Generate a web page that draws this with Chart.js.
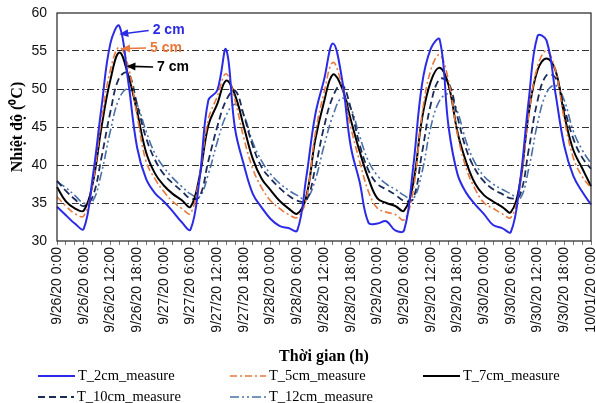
<!DOCTYPE html>
<html>
<head>
<meta charset="utf-8">
<script src="https://cdn.jsdelivr.net/npm/chart.js@4.4.1/dist/chart.umd.min.js"></script>
<style>
  html, body { margin: 0; padding: 0; background: #fff; }
  #wrap { width: 596px; height: 403px; }
</style>
</head>
<body>
<div id="wrap"><canvas id="tempChart" width="596" height="403"></canvas></div>
<script>
// days shown on the axis, readings every 2 hours
const days = ['9/26/20', '9/27/20', '9/28/20', '9/29/20', '9/30/20', '10/01/20']
const hours = ['0:00', '2:00', '4:00', '6:00', '8:00', '10:00', '12:00', '14:00', '16:00', '18:00', '20:00', '22:00']

const t2cm = [34.5, 33.4, 32.3, 31.6, 38.3, 47.6, 56.0, 58.3, 51.0, 42.3, 38.2, 36.3,
  35.2, 33.9, 32.5, 31.5, 38.0, 48.5, 49.8, 55.2, 44.8, 40.0, 36.2, 34.4,
  32.9, 32.0, 31.7, 31.4, 38.3, 46.5, 51.2, 56.0, 51.5, 42.5, 37.8, 32.4,
  32.3, 32.6, 31.4, 31.4, 39.5, 50.5, 55.3, 56.5, 45.0, 38.8, 36.3, 34.8,
  33.5, 32.1, 31.7, 31.2, 37.5, 48.5, 57.0, 56.4, 49.5, 42.5, 38.6, 36.5, 34.8]
const t5cm = [35.8, 34.6, 33.6, 33.3, 37.5, 46.0, 52.5, 55.5, 53.0, 46.5, 40.5, 38.2,
  36.5, 35.2, 34.3, 33.6, 38.5, 46.0, 49.0, 52.0, 48.5, 43.5, 39.5, 37.0,
  35.3, 34.3, 33.5, 33.1, 35.5, 44.0, 49.5, 53.5, 50.5, 45.0, 40.5, 36.5,
  34.3, 33.8, 33.5, 32.8, 36.5, 46.5, 52.5, 54.5, 51.0, 44.0, 39.5, 36.8,
  35.0, 34.3, 33.6, 33.1, 37.0, 46.5, 53.0, 55.0, 52.5, 46.0, 41.0, 38.5, 37.0]
const t7cm = [37.1, 35.2, 34.3, 34.0, 37.5, 45.0, 51.2, 54.8, 51.8, 47.0, 41.7, 38.9,
  37.3, 36.2, 35.4, 34.5, 38.4, 45.2, 48.0, 51.1, 49.2, 45.0, 40.8, 38.2,
  36.7, 35.3, 34.3, 33.6, 35.8, 43.2, 48.3, 51.9, 50.2, 46.0, 41.8, 38.2,
  35.6, 35.0, 34.6, 34.0, 37.4, 46.0, 51.0, 52.8, 50.5, 44.3, 40.3, 37.5,
  36.0, 35.2, 34.5, 33.8, 37.5, 46.8, 52.5, 54.0, 52.5, 46.6, 42.0, 39.6, 37.2]
const t10cm = [37.9, 36.6, 35.5, 34.6, 35.8, 41.0, 47.0, 51.5, 52.1, 48.0, 43.6, 40.7,
  38.8, 37.6, 36.6, 35.6, 35.8, 40.5, 45.0, 48.5, 49.8, 46.5, 42.5, 39.7,
  38.2, 37.0, 36.0, 35.3, 35.3, 39.5, 45.0, 49.0, 50.6, 47.5, 42.7, 39.3,
  37.5, 36.8, 36.1, 35.3, 35.5, 41.5, 48.0, 51.3, 50.8, 46.3, 42.0, 39.4,
  37.8, 36.8, 36.2, 35.6, 36.0, 42.0, 48.5, 51.8, 51.5, 47.5, 43.5, 41.0, 39.5]
const t12cm = [37.8, 37.0, 36.0, 35.0, 35.2, 39.0, 44.5, 48.8, 50.0, 48.0, 44.5, 41.5,
  39.7, 38.3, 37.2, 36.2, 35.8, 38.8, 43.0, 46.5, 48.0, 46.5, 43.0, 40.5,
  38.8, 37.6, 36.7, 36.0, 35.5, 38.0, 42.5, 46.5, 48.8, 47.5, 43.8, 40.5,
  38.6, 37.5, 36.8, 36.0, 35.5, 39.0, 45.0, 48.5, 49.3, 47.0, 43.0, 40.2,
  38.5, 37.5, 36.8, 36.2, 35.5, 39.5, 45.5, 49.5, 50.5, 48.5, 44.5, 42.0, 40.2]

const seriesNames = ['T_2cm_measure', 'T_5cm_measure', 'T_7cm_measure', 'T_10cm_measure', 'T_12cm_measure']
const yTicks = [30, 35, 40, 45, 50, 55, 60]

let labels = []
days.forEach((d, i) => {
    hours.forEach(h => {
        if (i < days.length - 1 || h === '0:00') labels.push(d + ' ' + h)
    })
})

// legend spots (canvas px: line start, line end, y) and arrow notes in data units (index, °C)
const legendSpots = [[38, 75, 376], [230, 266, 376], [423, 460, 376], [38, 74, 397], [230, 266, 397]]
const notes = [
    { text: '2 cm', color: '#2b2be6', head: [7.0, 57.2], tail: [10.3, 57.7] },
    { text: '5 cm', color: '#e8783c', head: [7.2, 55.3], tail: [10.0, 55.4] },
    { text: '7 cm', color: '#000000', head: [7.8, 53.0], tail: [10.8, 52.9] }
]

const extras = {
    id: 'extras',
    afterDraw(chart) {
        const c = chart.ctx
        const a = chart.chartArea
        const xs = chart.scales.x
        const ys = chart.scales.y
        c.save()
        // plot box
        c.strokeStyle = '#222'
        c.lineWidth = 1.2
        c.setLineDash([])
        c.strokeRect(a.left, a.top, a.right - a.left, a.bottom - a.top)

        // arrows + notes
        notes.forEach(n => {
            const hx = xs.getPixelForValue(n.head[0]), hy = ys.getPixelForValue(n.head[1])
            const tx = xs.getPixelForValue(n.tail[0]), ty = ys.getPixelForValue(n.tail[1])
            const ang = Math.atan2(hy - ty, hx - tx)
            c.strokeStyle = n.color
            c.fillStyle = n.color
            c.lineWidth = 1.6
            c.beginPath()
            c.moveTo(tx, ty)
            c.lineTo(hx - 6 * Math.cos(ang), hy - 6 * Math.sin(ang))
            c.stroke()
            c.beginPath()
            c.moveTo(hx, hy)
            c.lineTo(hx - 9 * Math.cos(ang) + 4 * Math.sin(ang), hy - 9 * Math.sin(ang) - 4 * Math.cos(ang))
            c.lineTo(hx - 9 * Math.cos(ang) - 4 * Math.sin(ang), hy - 9 * Math.sin(ang) + 4 * Math.cos(ang))
            c.closePath()
            c.fill()
            c.font = 'bold 14px "Liberation Sans", Arial, sans-serif'
            c.textBaseline = 'middle'
            c.fillText(n.text, tx + 4, ty)
        })

        // legend
        chart.data.datasets.forEach((ds, i) => {
            const [x0, x1, ly] = legendSpots[i]
            c.strokeStyle = ds.borderColor
            c.lineWidth = ds.borderWidth
            c.setLineDash(ds.borderDash || [])
            c.beginPath()
            c.moveTo(x0, ly)
            c.lineTo(x1, ly)
            c.stroke()
            c.setLineDash([])
            c.fillStyle = '#000'
            c.font = '14.5px "Liberation Serif", "Times New Roman", serif'
            c.textBaseline = 'middle'
            c.fillText(ds.label, x1 + 3, ly)
        })
        c.restore()
    }
}

const ctx = document.getElementById('tempChart')
const tempChart = new Chart(ctx, {
    type: 'line',
    data: {
        labels: labels,
        datasets: [
            { label: seriesNames[0], data: t2cm, borderColor: '#2b2be6', borderWidth: 2, borderDash: [] },
            { label: seriesNames[1], data: t5cm, borderColor: '#e8783c', borderWidth: 1.6, borderDash: [7, 3, 2, 3] },
            { label: seriesNames[2], data: t7cm, borderColor: '#000000', borderWidth: 2, borderDash: [] },
            { label: seriesNames[3], data: t10cm, borderColor: '#1c2c58', borderWidth: 1.8, borderDash: [7, 4] },
            { label: seriesNames[4], data: t12cm, borderColor: '#4a70a8', borderWidth: 1.6, borderDash: [9, 3, 2, 3, 2, 3] }
        ]
    },
    options: {
        responsive: false,
        animation: false,
        elements: {
            point: { radius: 0 },
            line: { tension: 0.4, fill: false }
        },
        layout: { padding: { left: 0, right: 0, top: 0, bottom: 37 } },
        plugins: {
            legend: { display: false },
            tooltip: { enabled: false }
        },
        scales: {
            x: {
                offset: false,
                afterFit: s => { s.height = 125; s.paddingRight = 5; s.paddingLeft = 0 },
                grid: { drawOnChartArea: false, drawTicks: true, tickLength: 4, color: '#777' },
                border: { display: false },
                ticks: {
                    autoSkip: false,
                    minRotation: 90,
                    maxRotation: 90,
                    padding: 2,
                    color: '#111',
                    font: { family: '"Liberation Sans", Arial, sans-serif', size: 14 },
                    callback: function(v, i) { return i % 3 === 0 ? labels[i] : '' }
                },
                title: {
                    display: true,
                    text: 'Thời gian (h)',
                    color: '#000',
                    padding: { top: 6, bottom: 0 },
                    font: { family: '"Liberation Serif", "Times New Roman", serif', size: 16, weight: 'bold' }
                }
            },
            y: {
                min: 30,
                max: 60,
                afterBuildTicks: axis => { axis.ticks = yTicks.map(v => ({ value: v })) },
                afterFit: s => { s.width = 57; s.paddingTop = 13 },
                grid: {
                    color: c => (c.tick && (c.tick.value === 30 || c.tick.value === 60)) ? 'rgba(0,0,0,0)' : '#333',
                    lineWidth: 1,
                    drawTicks: false
                },
                border: { display: false, dash: [7, 3, 2, 3] },
                ticks: {
                    padding: 10,
                    color: '#111',
                    font: { family: '"Liberation Sans", Arial, sans-serif', size: 14 }
                },
                title: {
                    display: true,
                    text: 'Nhiệt độ (⁰C)',
                    color: '#000',
                    padding: { top: 8, bottom: 0 },
                    font: { family: '"Liberation Serif", "Times New Roman", serif', size: 16, weight: 'bold' }
                }
            }
        }
    },
    plugins: [extras]
})
</script>
</body>
</html>
